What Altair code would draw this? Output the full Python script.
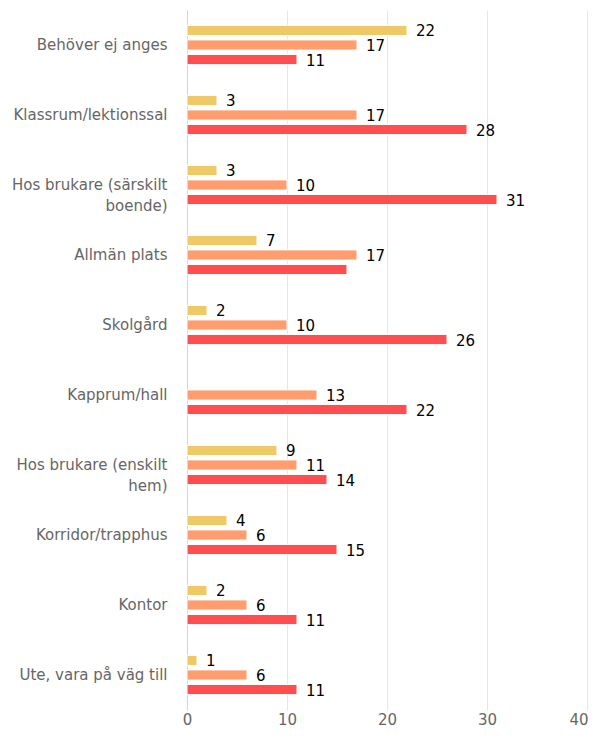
import altair as alt
import pandas as pd

categories = [
    "Behöver ej anges",
    "Klassrum/lektionssal",
    "Hos brukare (särskilt|boende)",
    "Allmän plats",
    "Skolgård",
    "Kapprum/hall",
    "Hos brukare (enskilt|hem)",
    "Korridor/trapphus",
    "Kontor",
    "Ute, vara på väg till",
]
series_names = ["Serie 1", "Serie 2", "Serie 3"]
series_colors = ["#efc966", "#ff9d6e", "#ff4e4f"]
serie1 = [22, 3, 3, 7, 2, None, 9, 4, 2, 1]
serie2 = [17, 17, 10, 17, 10, 13, 11, 6, 6, 6]
serie3 = [11, 28, 31, 16, 26, 22, 14, 15, 11, 11]
# data label shown (Allmän plats red label hidden in the original)
show3 = [True, True, True, False, True, True, True, True, True, True]
x_ticks = [0, 10, 20, 30, 40]

rows = []
for i, c in enumerate(categories):
    for s, vals in zip(series_names, [serie1, serie2, serie3]):
        v = vals[i]
        if v is None:
            continue
        show = True
        if s == "Serie 3":
            show = show3[i]
        rows.append({"cat": c, "serie": s, "value": v, "label": str(v) if show else ""})
df = pd.DataFrame(rows)

font = "DejaVu Sans"

y_enc = alt.Y(
    "cat:N",
    sort=categories,
    title=None,
    scale=alt.Scale(paddingInner=0.44, paddingOuter=0.22),
    axis=alt.Axis(
        labelExpr="split(datum.label, '|')",
        labelFontSize=15,
        labelColor="#666666",
        labelFont=font,
        labelPadding=20,
        labelLineHeight=21,
        labelLimit=200,
        ticks=False,
        domainColor="#ccd6eb",
        domainWidth=1,
        grid=False,
    ),
)
x_enc = alt.X(
    "value:Q",
    title=None,
    scale=alt.Scale(domain=[0, 40], nice=False),
    axis=alt.Axis(
        values=x_ticks,
        labelFontSize=15,
        labelColor="#666666",
        labelFont=font,
        labelPadding=2,
        labelAlign=alt.condition("datum.value == 40", alt.value("right"), alt.value("center")),
        labelOffset=alt.condition("datum.value == 40", alt.value(1), alt.value(0)),
        ticks=False,
        domain=False,
        grid=True,
        gridColor="#e6e6e6",
        labelFlush=False,
    ),
)
yoff = alt.YOffset(
    "serie:N",
    sort=series_names,
    scale=alt.Scale(paddingInner=0.3, paddingOuter=0.0),
)

bars = alt.Chart(df).mark_bar(stroke="white", strokeWidth=1).encode(
    x=x_enc,
    y=y_enc,
    yOffset=yoff,
    color=alt.Color(
        "serie:N",
        scale=alt.Scale(domain=series_names, range=series_colors),
        legend=None,
    ),
)

labels = alt.Chart(df).mark_text(
    align="left", baseline="middle", dx=9, dy=1, fontSize=15, font=font,
    fontWeight="normal", color="#000000",
).encode(
    x=alt.X("value:Q"),
    y=alt.Y("cat:N", sort=categories),
    yOffset=alt.YOffset("serie:N", sort=series_names),
    text="label:N",
)

chart = (
    alt.layer(bars, labels)
    .properties(
        width=400,
        height=700,
        autosize=alt.AutoSizeParams(type="none"),
        padding={"left": 179, "top": 2, "right": 2, "bottom": 19},
    )
    .configure_view(stroke=None)
)

chart.save("out.html", embed_options={"renderer": "svg", "actions": False})
